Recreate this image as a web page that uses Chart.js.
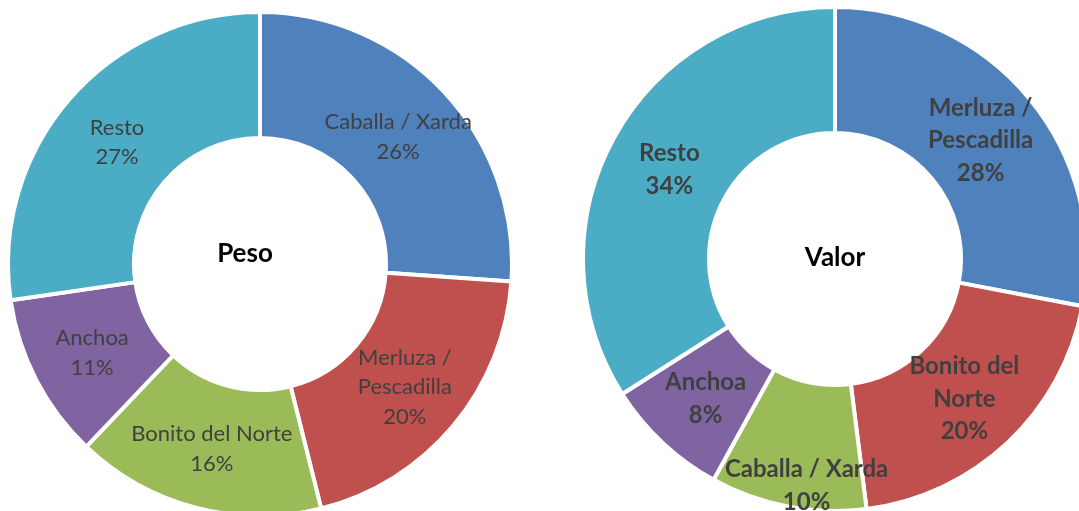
<!DOCTYPE html>
<html><head><meta charset="utf-8">
<script src="https://cdn.jsdelivr.net/npm/chart.js@4"></script>
<style>
html,body{margin:0;padding:0;background:#fff;overflow:hidden;width:1079px;height:511px;}
.wrap{position:absolute;width:508px;height:508px;}
</style></head><body>
<div class="wrap" style="left:6px;top:10px;"><canvas id="c1"></canvas></div>
<div class="wrap" style="left:581px;top:5px;"><canvas id="c2"></canvas></div>
<script>
const pesoLabels = [['Caballa / Xarda'], ['Merluza /', 'Pescadilla'], ['Bonito del Norte'], ['Anchoa'], ['Resto']];
const pesoValues = [26.1, 20, 16, 10.6, 27.3];
const valorLabels = [['Merluza /', 'Pescadilla'], ['Bonito del', 'Norte'], ['Caballa / Xarda'], ['Anchoa'], ['Resto']];
const valorValues = [28, 20, 10, 8, 34];
const sliceColors = ['#4F81BD', '#C0504D', '#9BBB59', '#8064A2', '#4BACC6'];

const labelPlugin = {
  id: 'sliceLabels',
  afterDatasetsDraw(chart, args, opts) {
    const ctx = chart.ctx;
    const meta = chart.getDatasetMeta(0);
    const ds = chart.data.datasets[0];
    const total = ds.data.reduce((a, b) => a + b, 0);
    ctx.save();
    ctx.textAlign = 'center';
    ctx.textBaseline = 'middle';
    ctx.fillStyle = opts.color;
    ctx.font = opts.font;
    meta.data.forEach((arc, i) => {
      const p = arc.tooltipPosition();
      const lines = [].concat(chart.data.labels[i]);
      lines.push(Math.round(ds.data[i] / total * 100) + '%');
      const sh = (opts.shift && opts.shift[i]) || [0, 0];
      const x = p.x + sh[0];
      const y0 = p.y + sh[1] + opts.dy - (lines.length - 1) * opts.lineHeight / 2;
      lines.forEach((t, j) => ctx.fillText(t, x, y0 + j * opts.lineHeight));
    });
    ctx.fillStyle = '#000';
    ctx.font = opts.titleFont;
    ctx.fillText(opts.title, meta.data[0].x + opts.titleDx, meta.data[0].y + opts.titleDy);
    ctx.restore();
  }
};

function makeChart(id, labels, values, pluginOpts) {
  return new Chart(document.getElementById(id), {
    type: 'doughnut',
    data: {
      labels: labels,
      datasets: [{
        data: values,
        backgroundColor: sliceColors,
        borderColor: '#ffffff',
        borderWidth: 4,
        hoverOffset: 0
      }]
    },
    options: {
      responsive: true,
      maintainAspectRatio: false,
      animation: false,
      cutout: '50%',
      layout: { padding: 0 },
      plugins: {
        legend: { display: false },
        tooltip: { enabled: false },
        sliceLabels: pluginOpts
      }
    },
    plugins: [labelPlugin]
  });
}

makeChart('c1', pesoLabels, pesoValues, {
  color: '#404040', font: '22px Lato', lineHeight: 29.5, dy: 2,
  title: 'Peso', titleFont: 'bold 26px Lato', titleDx: -15, titleDy: -10
});
makeChart('c2', valorLabels, valorValues, {
  color: '#404040', font: 'bold 24px Lato', lineHeight: 32.5, dy: 2,
  shift: { 2: [7, 39] },
  title: 'Valor', titleFont: 'bold 26px Lato', titleDx: 0, titleDy: -1
});
</script>
</body></html>
